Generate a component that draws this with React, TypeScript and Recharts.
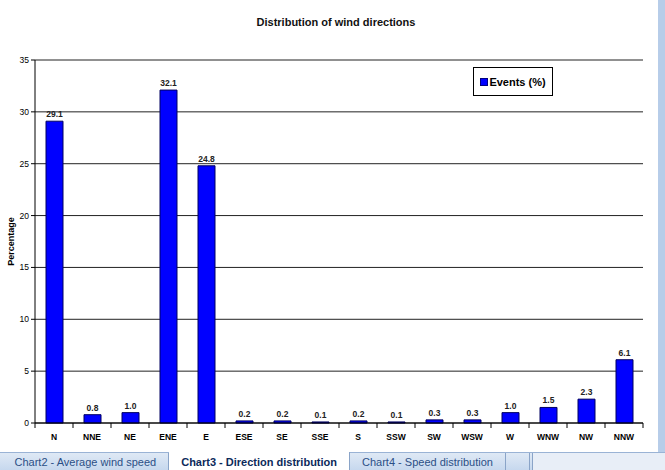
import React from 'react';
import {
    BarChart,
    Bar,
    XAxis,
    YAxis,
    CartesianGrid,
    LabelList,
    Label,
} from 'recharts';

const directions = ['N', 'NNE', 'NE', 'ENE', 'E', 'ESE', 'SE', 'SSE', 'S', 'SSW', 'SW', 'WSW', 'W', 'WNW', 'NW', 'NNW'];
const events = [29.1, 0.8, 1.0, 32.1, 24.8, 0.2, 0.2, 0.1, 0.2, 0.1, 0.3, 0.3, 1.0, 1.5, 2.3, 6.1];
const yTicks = [0, 5, 10, 15, 20, 25, 30, 35];
const sheetTabs = ['Chart2 - Average wind speed', 'Chart3 - Direction distribution', 'Chart4 - Speed distribution'];
const activeTab = 1;

const data = directions.map((name, i) => ({name, events: events[i]}));

const font = 'Arial, "Liberation Sans", sans-serif';

// x tick: label under the centre, tick mark on the band boundary (Excel style)
const CategoryTick = (props: any) => {
    const {x, y, payload} = props;
    const half = payload.offset || 0;
    return (
        <g>
            <line x1={x + half} y1={y - 8} x2={x + half} y2={y - 3} stroke="#000"/>
            {payload.index === 0 && <line x1={x - half} y1={y - 8} x2={x - half} y2={y - 3} stroke="#000"/>}
            <text x={x} y={y + 9} textAnchor="middle" fontSize={8.5} fontWeight="bold" fill="#000" fontFamily={font}>
                {payload.value}
            </text>
        </g>
    );
};

export default function App() {
    return (
        <div style={{position: 'fixed', left: 0, top: 0, width: 665, height: 470, background: '#fff', overflow: 'hidden'}}>
            <div style={{position: 'absolute', left: 0, top: 16, width: 672, textAlign: 'center', fontFamily: font, fontSize: 11, fontWeight: 'bold', color: '#111'}}>
                Distribution of wind directions
            </div>
            <BarChart
                width={657}
                height={450}
                data={data}
                margin={{top: 60, right: 14, bottom: 7, left: 0}}
                barSize={17}
            >
                <CartesianGrid vertical={false} stroke="#222" strokeWidth={1}/>
                <XAxis
                    dataKey="name"
                    height={20}
                    axisLine={{stroke: '#000'}}
                    tickLine={false}
                    interval={0}
                    tick={<CategoryTick/>}
                />
                <YAxis
                    width={35}
                    domain={[0, 35]}
                    ticks={yTicks}
                    interval={0}
                    axisLine={{stroke: '#000'}}
                    tickLine={{stroke: '#000'}}
                    tickSize={4}
                    tick={{fontSize: 8.5, fill: '#000', fontFamily: font}}
                >
                    <Label
                        content={({viewBox}: any) => (
                            <text
                                x={viewBox.x + 14}
                                y={viewBox.y + viewBox.height / 2}
                                transform={`rotate(-90, ${viewBox.x + 14}, ${viewBox.y + viewBox.height / 2})`}
                                textAnchor="middle"
                                fontSize={9}
                                fontWeight="bold"
                                fontFamily={font}
                                fill="#000"
                            >
                                Percentage
                            </text>
                        )}
                    />
                </YAxis>
                <YAxis yAxisId="frame" orientation="right" width={0} tick={false} axisLine={{stroke: '#888'}} tickLine={false}/>
                <Bar dataKey="events" name="Events (%)" fill="#0000ff" stroke="#000060" strokeWidth={1} isAnimationActive={false}>
                    <LabelList
                        dataKey="events"
                        position="top"
                        offset={4}
                        formatter={(v: any) => Number(v).toFixed(1)}
                        style={{fontSize: 8.5, fontWeight: 'bold', fill: '#222', fontFamily: font}}
                    />
                </Bar>
            </BarChart>
            {/* legend box */}
            <div style={{
                position: 'absolute', left: 473, top: 67, width: 78, height: 27,
                border: '1px solid #000', background: '#fff',
                display: 'flex', alignItems: 'center', justifyContent: 'center',
                fontFamily: font, fontSize: 11, fontWeight: 'bold',
            }}>
                <span style={{width: 6, height: 6, background: '#0000ff', border: '1px solid #000080', marginRight: 1}}/>
                Events (%)
            </div>
            <div style={{position: 'absolute', left: 658, top: 0, width: 7, height: 452, background: '#b7cde9'}}/>
            <div style={{
                position: 'absolute', left: 0, top: 452, width: 665, height: 18,
                background: 'linear-gradient(#dfe9f5, #c5d7ee)', borderTop: '1px solid #9ab3d5',
                display: 'flex', alignItems: 'stretch', fontFamily: font, fontSize: 11, whiteSpace: 'nowrap',
            }}>
                <div style={{width: 4}}/>
                {sheetTabs.map((t, i) => (
                    <div key={t} style={{
                        padding: '0 12px',
                        display: 'flex',
                        alignItems: 'center',
                        background: i === activeTab ? '#fff' : 'transparent',
                        fontWeight: i === activeTab ? 'bold' : 'normal',
                        color: i === activeTab ? '#0c2a5a' : '#2b4f86',
                        borderRight: '1px solid #8aa4c8',
                        marginTop: i === activeTab ? -1 : 0,
                    }}>{t}</div>
                ))}
                <div style={{width: 36, borderRight: '1px solid #8aa4c8'}}/>
                <div style={{flex: 1}}/>
                <div style={{width: 210, marginLeft: 2, background: '#e8eef7', borderLeft: '1px solid #8aa4c8'}}/>
            </div>
        </div>
    );
}
